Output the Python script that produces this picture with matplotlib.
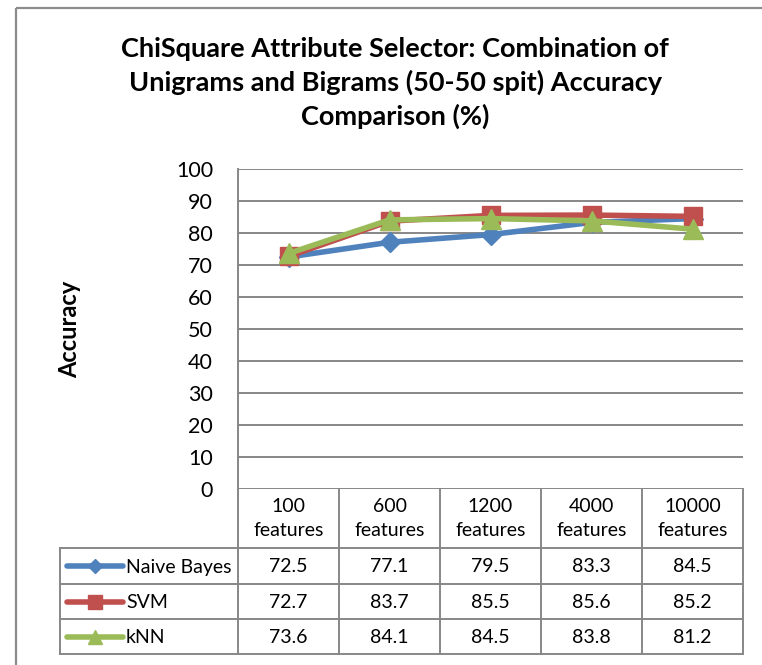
import matplotlib
matplotlib.use("Agg")
import matplotlib.pyplot as plt
from matplotlib.lines import Line2D

plt.rcParams['font.family'] = ['Lato', 'DejaVu Sans']

title = "ChiSquare Attribute Selector: Combination of\nUnigrams and Bigrams (50-50 spit) Accuracy\nComparison (%)"
categories = ["100\nfeatures", "600\nfeatures", "1200\nfeatures", "4000\nfeatures", "10000\nfeatures"]
series_names = ["Naive Bayes", "SVM", "kNN"]
naive_bayes = [72.5, 77.1, 79.5, 83.3, 84.5]
svm = [72.7, 83.7, 85.5, 85.6, 85.2]
knn = [73.6, 84.1, 84.5, 83.8, 81.2]
yticks = [0, 10, 20, 30, 40, 50, 60, 70, 80, 90, 100]

colors = ["#4F81BD", "#C0504D", "#9BBB59"]
markers = ["D", "s", "^"]
msizes = [10.5, 13.5, 14]
series = [naive_bayes, svm, knn]

W, H = 762, 665
fig = plt.figure(figsize=(W / 100, H / 100), dpi=100)

def fx(px):
    return px / W

def fy(py):
    return 1 - py / H

grid_c = "#878787"

# chart border (only left and top edges visible in the reference)
fig.add_artist(Line2D([fx(16), fx(16)], [fy(8), fy(665)], color="#8c8c8c", lw=1.6,
                      solid_capstyle="butt"))
fig.add_artist(Line2D([fx(16), fx(762)], [fy(8), fy(8)], color="#8c8c8c", lw=1.6,
                      solid_capstyle="butt"))

left, right, top, bottom = 238, 743, 169, 489
ax = fig.add_axes([fx(left), fy(bottom), fx(right - left), (bottom - top) / H])
ax.set_xlim(-0.5, len(categories) - 0.5)
ax.set_ylim(0, 100)
ax.set_yticks(yticks)
ax.set_xticks([])
ax.tick_params(axis='y', length=0, pad=18, labelsize=15.5)
for s in ["top", "right", "bottom"]:
    ax.spines[s].set_visible(False)
ax.spines["left"].set_color(grid_c)
ax.spines["left"].set_linewidth(1.4)
ax.yaxis.grid(True, color=grid_c, lw=1.4)
ax.set_axisbelow(True)

x = list(range(len(categories)))
for vals, c, m, ms in zip(series, colors, markers, msizes):
    ax.plot(x, vals, color=c, lw=4, marker=m, markersize=ms, markeredgecolor=c, clip_on=False, zorder=3)

ax.set_ylabel("Accuracy", fontsize=17, fontweight="bold")
ax.yaxis.set_label_coords((81 - left) / (right - left), 0.5)

fig.text(fx(395), fy(83), title, ha="center", va="center", fontsize=19.5,
         fontweight="bold", linespacing=1.4)

# data table
ncol = len(categories)
colw = (right - left) / ncol
header_bot = 548
row_lines = [548, 584, 619, 654]
tleft = 60
lw_t = 1.4

def hline(x0, x1, y):
    fig.add_artist(Line2D([fx(x0), fx(x1)], [fy(y), fy(y)], color=grid_c, lw=lw_t))

def vline(xp, y0, y1):
    fig.add_artist(Line2D([fx(xp), fx(xp)], [fy(y0), fy(y1)], color=grid_c, lw=lw_t))

for i in range(ncol + 1):
    vline(left + i * colw, bottom, row_lines[-1])
for i, cat in enumerate(categories):
    fig.text(fx(left + (i + 0.5) * colw), fy((bottom + header_bot) / 2), cat,
             ha="center", va="center", fontsize=14, linespacing=1.45)
for yv in row_lines:
    hline(tleft, right, yv)
vline(tleft, row_lines[0], row_lines[-1])

for r, (name, vals, c, m) in enumerate(zip(series_names, series, colors, markers)):
    yc = (row_lines[r] + row_lines[r + 1]) / 2
    fig.add_artist(Line2D([fx(67), fx(123)], [fy(yc), fy(yc)], color=c, lw=4,
                          solid_capstyle="round"))
    fig.add_artist(Line2D([fx(95)], [fy(yc)], color=c, marker=m, markersize=[7.5, 10, 10][r],
                          markeredgecolor=c, lw=0))
    fig.text(fx(126), fy(yc + 1), name, ha="left", va="center", fontsize=14)
    for i, v in enumerate(vals):
        fig.text(fx(left + (i + 0.5) * colw), fy(yc + 1), f"{v:.1f}", ha="center",
                 va="center", fontsize=14)

fig.savefig("out.png", dpi=100)
